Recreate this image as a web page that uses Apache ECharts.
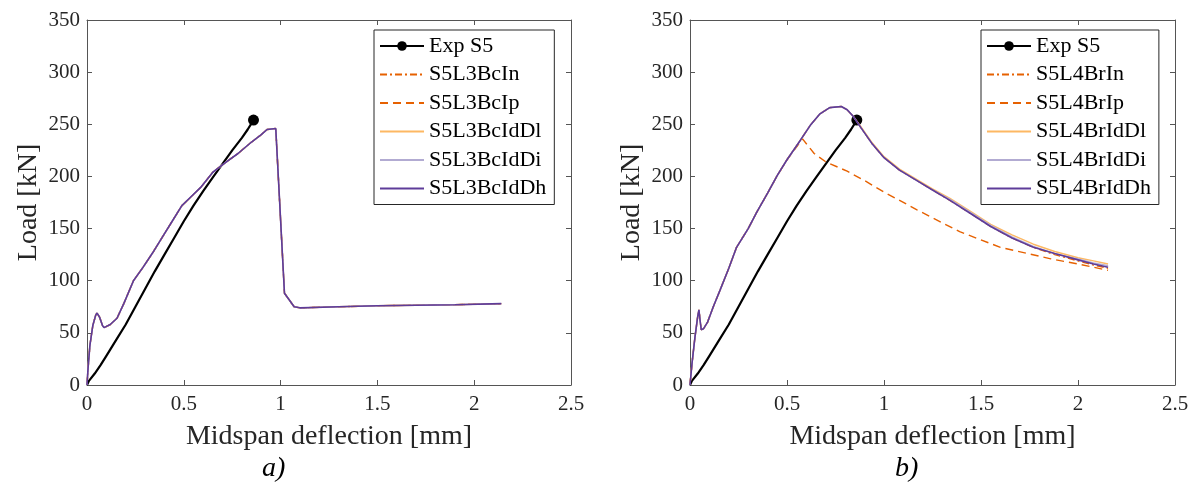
<!DOCTYPE html>
<html>
<head>
<meta charset="utf-8">
<script src="https://cdn.jsdelivr.net/npm/echarts@6/dist/echarts.min.js"></script>
<style>
html,body{margin:0;padding:0;background:#fff;}
#chart{width:1197px;height:499px;}
</style>
</head>
<body>
<div id="chart"></div>
<script>
// ---------- DATA ----------
const xTicks = [0, 0.5, 1, 1.5, 2, 2.5];
const yTicks = [0, 50, 100, 150, 200, 250, 300, 350];

// Experimental S5 (same test in both panels)
const expX = [0, 0.01, 0.04, 0.07, 0.1, 0.15, 0.2, 0.25, 0.3, 0.35, 0.4, 0.45, 0.5, 0.55, 0.6, 0.65, 0.7, 0.75, 0.8, 0.83, 0.86];
const expY = [0, 4, 11, 19, 28, 43, 58, 75, 92, 109, 125, 141, 157, 172, 186, 199, 212, 225, 237, 245, 254];

// Panel a) – all L3Bc models practically coincide
const aX = [0, 0.005, 0.015, 0.03, 0.045, 0.052, 0.065, 0.08, 0.088, 0.12, 0.155, 0.19, 0.24, 0.29, 0.34, 0.39, 0.44, 0.49, 0.54, 0.59, 0.65, 0.72, 0.78, 0.85, 0.9, 0.93, 0.975, 1.02, 1.07, 1.1, 1.3, 1.5, 1.7, 1.9, 2.14];
const aIn   = [0, 15, 38, 57, 67, 69, 65, 57, 55, 58, 64, 78, 100, 113, 127, 142, 157, 172, 181, 190, 204, 214, 222, 233, 240, 245, 246, 88, 75, 74, 75, 76, 76.5, 77, 78];
const aIp   = [0, 15, 38, 57, 67, 69, 65, 57, 55, 58, 64, 78, 100, 113, 127, 142, 157, 172, 181, 190, 204, 214, 222, 233, 240, 245, 246, 88, 75, 74, 75, 76, 76.5, 77, 78];
const aIdDl = [0, 15, 38, 57, 67, 69, 65, 57, 55, 58, 64, 78, 100, 113, 127, 142, 157, 172, 181, 190, 204, 214, 222, 233, 240, 245, 246, 88, 75, 74, 75, 76, 76.5, 77, 78];
const aIdDi = [0, 15, 38, 57, 67, 69, 65, 57, 55, 58, 64, 78, 100, 113, 127, 142, 157, 172, 181, 190, 204, 214, 222, 233, 240, 245, 246, 88, 75, 74, 75, 76, 76.5, 77, 78];
const aIdDh = [0, 15, 38, 57, 67, 69, 65, 57, 55, 58, 64, 78, 100, 113, 127, 142, 157, 172, 181, 190, 204, 214, 222, 233, 240, 245, 246, 88, 75, 74, 75, 76, 76.5, 77, 78];

// Panel b) – L4Br models
const bX = [0, 0.01, 0.025, 0.04, 0.046, 0.052, 0.058, 0.07, 0.09, 0.12, 0.155, 0.2, 0.24, 0.3, 0.345, 0.4, 0.45, 0.5, 0.57, 0.62, 0.67, 0.72, 0.78, 0.81, 0.84, 0.88, 0.94, 1.0, 1.08, 1.17, 1.25, 1.34, 1.45, 1.55, 1.66, 1.77, 1.88, 2.0, 2.08, 2.155];
const bIn   = [0, 20, 45, 66, 72, 62, 53, 54, 60, 75, 91, 112, 132, 150, 166, 184, 201, 216, 235, 249, 260, 266, 267, 264, 258, 247, 231, 218, 206, 196, 187, 177, 164, 152, 141, 132, 125, 119, 115, 112];
const bIdDl = [0, 20, 45, 66, 72, 62, 53, 54, 60, 75, 91, 112, 132, 150, 166, 184, 201, 216, 235, 249, 260, 266, 267, 264, 258, 248, 232, 219, 207, 197, 188, 179, 166, 154, 144, 135, 128, 122, 119, 116];
const bIdDi = [0, 20, 45, 66, 72, 62, 53, 54, 60, 75, 91, 112, 132, 150, 166, 184, 201, 216, 235, 249, 260, 266, 267, 264, 258, 247, 231, 218, 206, 196, 187, 178, 165, 153, 142, 133, 126, 121, 117, 114.5];
const bIdDh = [0, 20, 45, 66, 72, 62, 53, 54, 60, 75, 91, 112, 132, 150, 166, 184, 201, 216, 235, 249, 260, 266, 267, 264, 258, 247, 231, 218, 206, 196, 187, 177, 164, 152, 141, 132, 126, 120, 116, 113];
const bIpX = [0, 0.01, 0.025, 0.04, 0.046, 0.052, 0.058, 0.07, 0.09, 0.12, 0.155, 0.2, 0.24, 0.3, 0.345, 0.4, 0.45, 0.5, 0.58, 0.64, 0.7, 0.81, 0.9, 1.0, 1.17, 1.39, 1.6, 1.86, 2.0, 2.155];
const bIp  = [0, 20, 45, 66, 72, 62, 53, 54, 60, 75, 91, 112, 132, 150, 166, 184, 201, 216, 236, 222, 214, 205, 196, 185, 168, 147, 132, 121, 116, 110];

const namesA = ['Exp S5', 'S5L3BcIn', 'S5L3BcIp', 'S5L3BcIdDl', 'S5L3BcIdDi', 'S5L3BcIdDh'];
const namesB = ['Exp S5', 'S5L4BrIn', 'S5L4BrIp', 'S5L4BrIdDl', 'S5L4BrIdDi', 'S5L4BrIdDh'];

// ---------- STYLE ----------
const FONT = 'Liberation Serif';
const TXT = '#262626';
const AX = '#555555';
const C_IN = '#e66101', C_DL = '#fdb863', C_DI = '#b2abd2', C_DH = '#5e3c99';

function zip(xs, ys) { return xs.map((x, i) => [x, ys[i]]); }
function expData() {
  const d = zip(expX, expY);
  d[d.length - 1] = { value: d[d.length - 1], symbolSize: 11 };
  return d;
}

const xAxes = [], yAxes = [];
[0, 1].forEach(gi => {
  xAxes.push({
    type: 'value', gridIndex: gi, min: 0, max: 2.5, interval: 0.5, position: 'bottom',
    splitLine: { show: false },
    axisLine: { show: true, onZero: false, lineStyle: { color: AX, width: 1 } },
    axisTick: { show: true, inside: true, length: 5, lineStyle: { color: AX } },
    axisLabel: { color: TXT, fontFamily: FONT, fontSize: 21, margin: 9,
      formatter: v => String(v) },
    name: 'Midspan deflection [mm]', nameLocation: 'middle', nameGap: 38,
    nameTextStyle: { color: TXT, fontFamily: FONT, fontSize: 28 }
  });
  xAxes.push({
    type: 'value', gridIndex: gi, min: 0, max: 2.5, interval: 0.5, position: 'top',
    splitLine: { show: false },
    axisLine: { show: true, onZero: false, lineStyle: { color: AX, width: 1 } },
    axisTick: { show: true, inside: true, length: 5, lineStyle: { color: AX } },
    axisLabel: { show: false }
  });
  yAxes.push({
    type: 'value', gridIndex: gi, min: 0, max: 350, interval: 50, position: 'left',
    splitLine: { show: false },
    axisLine: { show: true, onZero: false, lineStyle: { color: AX, width: 1 } },
    axisTick: { show: true, inside: true, length: 5, lineStyle: { color: AX } },
    axisLabel: { color: TXT, fontFamily: FONT, fontSize: 21, margin: 7 },
    name: 'Load [kN]', nameLocation: 'middle', nameGap: 44,
    nameTextStyle: { color: TXT, fontFamily: FONT, fontSize: 28 }
  });
  yAxes.push({
    type: 'value', gridIndex: gi, min: 0, max: 350, interval: 50, position: 'right',
    splitLine: { show: false },
    axisLine: { show: true, onZero: false, lineStyle: { color: AX, width: 1 } },
    axisTick: { show: true, inside: true, length: 5, lineStyle: { color: AX } },
    axisLabel: { show: false }
  });
});

function lineSeries(name, data, gi, color, width, type, z) {
  return {
    name, type: 'line', data, xAxisIndex: gi * 2, yAxisIndex: gi * 2,
    symbol: 'none', smooth: false, animation: false, z: z || 2,
    lineStyle: { color, width, type: type || 'solid' },
    itemStyle: { color }
  };
}
function expSeries(gi, name) {
  return {
    name, type: 'line', data: expData(), xAxisIndex: gi * 2, yAxisIndex: gi * 2,
    symbol: 'circle', symbolSize: 0, showSymbol: true, showAllSymbol: true,
    animation: false, z: 1,
    lineStyle: { color: '#000', width: 2.2 }, itemStyle: { color: '#000' }
  };
}
const DASHDOT = [7, 3, 2, 3];
const DASH = [8, 5];

const series = [
  expSeries(0, 'Exp S5'),
  lineSeries(namesA[1], zip(aX, aIn), 0, C_IN, 1.4, DASHDOT),
  lineSeries(namesA[2], zip(aX, aIp), 0, C_IN, 1.4, DASH),
  lineSeries(namesA[3], zip(aX, aIdDl), 0, C_DL, 1.4),
  lineSeries(namesA[4], zip(aX, aIdDi), 0, C_DI, 1.4),
  lineSeries(namesA[5], zip(aX, aIdDh), 0, C_DH, 1.6),
  expSeries(1, 'Exp S5 '),
  lineSeries(namesB[1], zip(bX, bIn), 1, C_IN, 1.4, DASHDOT),
  lineSeries(namesB[2], zip(bIpX, bIp), 1, C_IN, 1.4, DASH),
  lineSeries(namesB[3], zip(bX, bIdDl), 1, C_DL, 1.4),
  lineSeries(namesB[4], zip(bX, bIdDi), 1, C_DI, 1.4),
  lineSeries(namesB[5], zip(bX, bIdDh), 1, C_DH, 1.6)
];

function legendCfg(names, left) {
  return {
    data: names.map((n, i) => i === 0 ? { name: n } : { name: n, itemStyle: { opacity: 0 } }),
    orient: 'vertical', left, top: 30,
    backgroundColor: '#fff', borderColor: '#262626', borderWidth: 1,
    padding: [5, 8, 5, 5], itemWidth: 44, itemHeight: 12, itemGap: 6.5,
    selectedMode: false,
    textStyle: { color: '#000', fontFamily: FONT, fontSize: 22 },
    formatter: n => n.trim()
  };
}

const option = {
  backgroundColor: '#fff',
  animation: false,
  grid: [
    { left: 87, right: 1197 - 571, top: 20, bottom: 499 - 385 },
    { left: 690, right: 1197 - 1175, top: 20, bottom: 499 - 385 }
  ],
  xAxis: xAxes,
  yAxis: yAxes,
  legend: [
    legendCfg(namesA, 374),
    legendCfg(['Exp S5 '].concat(namesB.slice(1)), 981)
  ],
  graphic: [
    { type: 'text', left: 262, top: 455, style: { text: 'a)', font: 'italic 28px "Liberation Serif"', fill: '#000' } },
    { type: 'text', left: 895, top: 455, style: { text: 'b)', font: 'italic 28px "Liberation Serif"', fill: '#000' } }
  ],
  series
};

const chart = echarts.init(document.getElementById('chart'), null, { renderer: 'canvas' });
chart.setOption(option);
</script>
</body>
</html>
